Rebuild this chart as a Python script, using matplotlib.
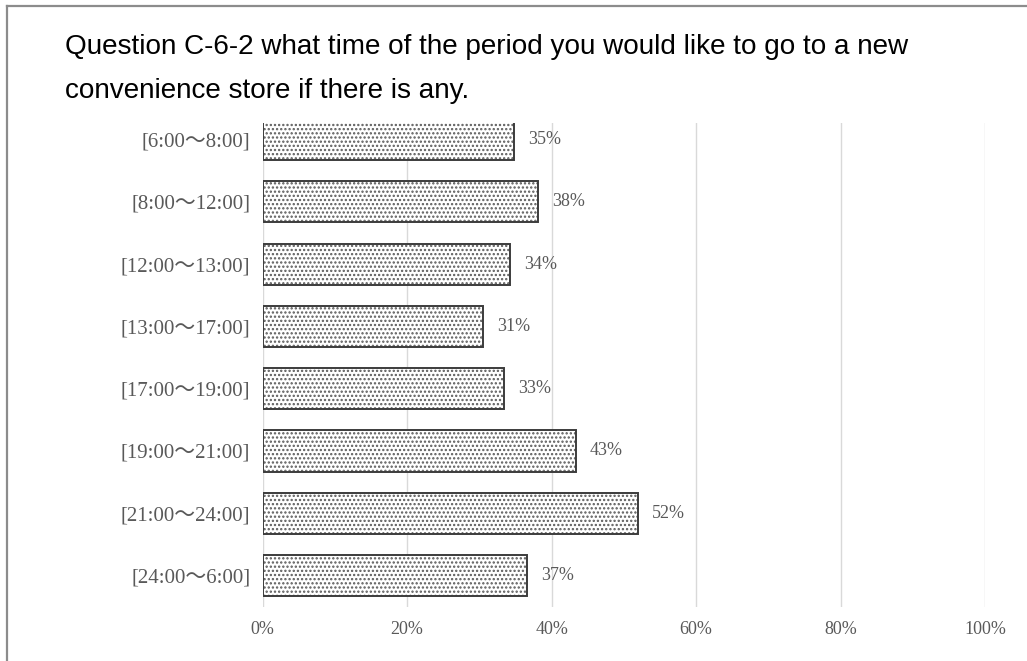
import matplotlib
matplotlib.use('Agg')
import matplotlib.pyplot as plt
from matplotlib.lines import Line2D

# data
periods = ['[6:00～8:00]', '[8:00～12:00]', '[12:00～13:00]', '[13:00～17:00]',
           '[17:00～19:00]', '[19:00～21:00]', '[21:00～24:00]', '[24:00～6:00]']
shares = [34.8, 38.1, 34.3, 30.5, 33.4, 43.4, 51.9, 36.6]
share_labels = ['35%', '38%', '34%', '31%', '33%', '43%', '52%', '37%']
x_ticks = [0, 20, 40, 60, 80, 100]
x_tick_labels = ['0%', '20%', '40%', '60%', '80%', '100%']

title_1 = 'Question C-6-2 what time of the period you would like to go to a new'
title_2 = 'convenience store if there is any.'

W, H = 1027, 661
TEXT_GREY = '#595959'
SERIF = ['Liberation Serif', 'Noto Sans CJK JP', 'DejaVu Serif']

plt.rcParams['hatch.linewidth'] = 1.1

fig = plt.figure(figsize=(W / 100, H / 100), dpi=100)
fig.patch.set_facecolor('white')

# frame: only top and left edges show in the reference
fig.add_artist(Line2D([7 / W, 1], [1 - 6 / H, 1 - 6 / H], color='#8c8c8c', lw=1.6))
fig.add_artist(Line2D([7 / W, 7 / W], [0, 1 - 6 / H], color='#8c8c8c', lw=1.6))

fig.text(65 / W, 1 - 54 / H, title_1, family='Liberation Sans', fontsize=20.1,
         color='black', va='baseline', ha='left')
fig.text(65 / W, 1 - 98 / H, title_2, family='Liberation Sans', fontsize=20.1,
         color='black', va='baseline', ha='left')

left, right = 262.7, 985.0
top, bottom = 122.7, 606.7
ax = fig.add_axes([left / W, 1 - bottom / H, (right - left) / W, (bottom - top) / H])

pos = list(range(len(periods)))
# dotted fill, then a plain outline on top
ax.barh(pos, shares, height=0.66, color='white', edgecolor='#5a5a5a',
        hatch='....', linewidth=0, zorder=2)
bars = ax.barh(pos, shares, height=0.66, fill=False, edgecolor='#3c3c3c',
               linewidth=1.4, zorder=3)
ax.bar_label(bars, labels=share_labels, padding=10, color=TEXT_GREY,
             fontsize=13, family=SERIF)

ax.set_xlim(0, 100)
ax.set_ylim(7.5, -0.27)
ax.set_xticks(x_ticks)
ax.set_xticklabels(x_tick_labels, family=SERIF, fontsize=13, color=TEXT_GREY)
ax.set_yticks(pos)
ax.set_yticklabels(periods, family=SERIF, fontsize=15, color=TEXT_GREY)
ax.tick_params(axis='x', length=0, pad=10)
ax.tick_params(axis='y', length=0, pad=9)
ax.grid(axis='x', color='#d9d9d9', linewidth=1.0, zorder=0)
ax.set_axisbelow(True)
for s in ax.spines.values():
    s.set_visible(False)

fig.savefig('out.png', dpi=100)
